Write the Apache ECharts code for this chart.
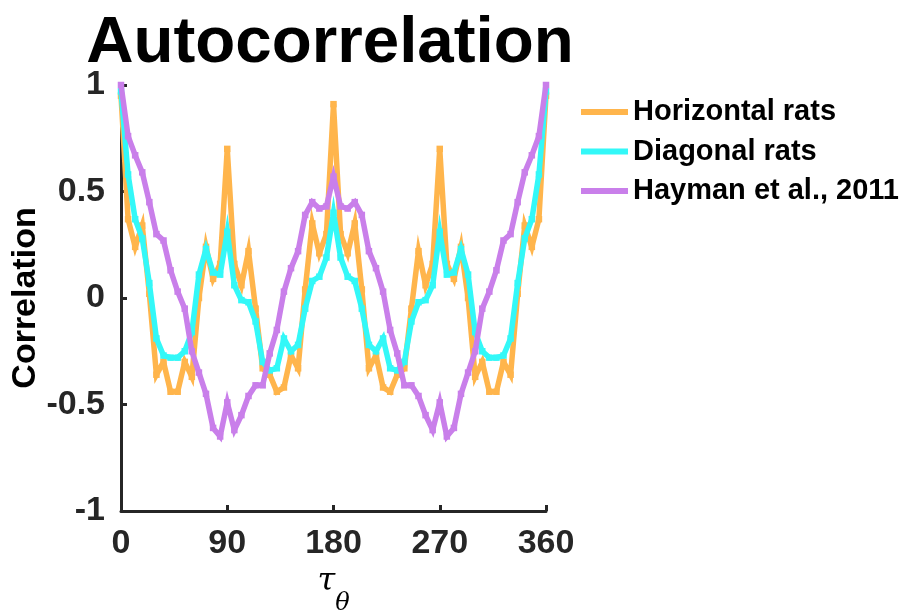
<!DOCTYPE html>
<html>
<head>
<meta charset="utf-8">
<script src="https://cdn.jsdelivr.net/npm/echarts@6/dist/echarts.min.js"></script>
<style>
  html, body { margin: 0; padding: 0; background: #fff; }
  #chart { width: 909px; height: 616px; }
</style>
</head>
<body>
<div id="chart"></div>
<script>
// Angular lag in degrees, sampled every 6 degrees
const lags = [
  0, 6, 12, 18, 24, 30, 36, 42, 48, 54, 60, 66, 72, 78, 84, 90,
  96, 102, 108, 114, 120, 126, 132, 138, 144, 150, 156, 162, 168, 174, 180,
  186, 192, 198, 204, 210, 216, 222, 228, 234, 240, 246, 252, 258, 264, 270,
  276, 282, 288, 294, 300, 306, 312, 318, 324, 330, 336, 342, 348, 354, 360
];

const horizontalRats = [
  0.95, 0.37, 0.24, 0.34, 0.02, -0.36, -0.30, -0.44, -0.44, -0.30, -0.37, 0.00, 0.24, 0.09, 0.16, 0.70,
  0.16, 0.06, 0.22, -0.05, -0.33, -0.36, -0.44, -0.42, -0.27, -0.33, 0.04, 0.35, 0.21, 0.30, 0.91,
  0.30, 0.21, 0.35, 0.04, -0.33, -0.27, -0.42, -0.44, -0.36, -0.33, -0.05, 0.22, 0.06, 0.16, 0.70,
  0.16, 0.09, 0.24, 0.00, -0.37, -0.30, -0.44, -0.44, -0.30, -0.36, 0.02, 0.34, 0.24, 0.37, 0.95
];

const diagonalRats = [
  0.97, 0.58, 0.37, 0.28, 0.07, -0.19, -0.27, -0.28, -0.28, -0.25, -0.16, 0.11, 0.23, 0.12, 0.11, 0.31,
  0.06, -0.01, -0.02, -0.11, -0.30, -0.34, -0.33, -0.19, -0.25, -0.22, -0.05, 0.08, 0.10, 0.19, 0.40,
  0.19, 0.10, 0.08, -0.05, -0.22, -0.25, -0.19, -0.33, -0.34, -0.30, -0.11, -0.02, -0.01, 0.06, 0.31,
  0.11, 0.12, 0.23, 0.11, -0.16, -0.25, -0.28, -0.28, -0.27, -0.19, 0.07, 0.28, 0.37, 0.58, 0.97
];

const hayman2011 = [
  1.00, 0.76, 0.67, 0.59, 0.45, 0.30, 0.27, 0.13, 0.03, -0.05, -0.25, -0.35, -0.45, -0.61, -0.65, -0.49,
  -0.62, -0.55, -0.46, -0.41, -0.41, -0.26, -0.15, 0.03, 0.14, 0.22, 0.39, 0.45, 0.42, 0.43, 0.57,
  0.43, 0.42, 0.45, 0.39, 0.22, 0.14, 0.03, -0.15, -0.26, -0.41, -0.41, -0.46, -0.55, -0.62, -0.49,
  -0.65, -0.61, -0.45, -0.35, -0.25, -0.05, 0.03, 0.13, 0.27, 0.30, 0.45, 0.59, 0.67, 0.76, 1.00
];

const seriesNames = ['Horizontal rats', 'Diagonal rats', 'Hayman et al., 2011'];
const seriesColors = ['#FFB54C', '#33F8F8', '#C97FEA'];
const seriesValues = [horizontalRats, diagonalRats, hayman2011];

const xTicks = [0, 90, 180, 270, 360];
const yTicks = [-1, -0.5, 0, 0.5, 1];

const FONT = '"Liberation Sans", Arial, Helvetica, sans-serif';
const SERIF = '"DejaVu Serif", "Liberation Serif", serif';
const AXIS_COLOR = '#262626';

const chart = echarts.init(document.getElementById('chart'), null, { renderer: 'canvas' });

const series = seriesValues.map((vals, i) => ({
  name: seriesNames[i],
  type: 'line',
  data: lags.map((x, k) => [x, vals[k]]),
  symbol: 'rect',
  symbolSize: 6.5,
  showSymbol: true,
  lineStyle: { color: seriesColors[i], width: 5.5, join: 'miter' },
  itemStyle: { color: seriesColors[i] },
  emphasis: { disabled: true },
  animation: false,
  z: 2 + i
}));

chart.setOption({
  animation: false,
  backgroundColor: '#ffffff',
  title: {
    text: 'Autocorrelation',
    left: 325,
    textAlign: 'center',
    top: 6,
    textStyle: { fontFamily: FONT, fontWeight: 'bold', fontSize: 65.5, color: '#000' }
  },
  legend: {
    orient: 'vertical',
    left: 576,
    top: 90,
    icon: 'rect',
    itemWidth: 47,
    itemHeight: 6,
    itemGap: 5.5,
    textStyle: { fontFamily: FONT, fontWeight: 'bold', fontSize: 29, color: '#000', lineHeight: 34, padding: [0, 0, 0, 0] },
    data: seriesNames.map((n, i) => ({ name: n, itemStyle: { color: seriesColors[i] } }))
  },
  grid: { left: 121, right: 363, top: 85, bottom: 105, containLabel: false, outerBoundsMode: 'none' },
  xAxis: {
    type: 'value',
    min: xTicks[0],
    max: xTicks[xTicks.length - 1],
    interval: 90,
    name: '{t|τ}{s|θ}',
    nameLocation: 'middle',
    nameGap: 50,
    nameTextStyle: {
      rich: {
        t: { fontFamily: SERIF, fontStyle: 'italic', fontSize: 32, color: '#000', verticalAlign: 'top' },
        s: { fontFamily: SERIF, fontStyle: 'italic', fontSize: 24, color: '#000', verticalAlign: 'bottom', padding: [26, 0, 0, 0] }
      }
    },
    axisLine: { show: true, onZero: false, lineStyle: { color: AXIS_COLOR, width: 3 } },
    axisTick: { show: true, inside: true, length: 6, lineStyle: { color: AXIS_COLOR, width: 3 } },
    axisLabel: { fontFamily: FONT, fontWeight: 'bold', fontSize: 34, color: '#262626', margin: 16 },
    splitLine: { show: false }
  },
  yAxis: {
    type: 'value',
    min: yTicks[0],
    max: yTicks[yTicks.length - 1],
    interval: 0.5,
    name: 'Correlation',
    nameLocation: 'middle',
    nameRotate: 90,
    nameGap: 74,
    nameTextStyle: { fontFamily: FONT, fontWeight: 'bold', fontSize: 34, color: '#000' },
    axisLine: { show: true, onZero: false, lineStyle: { color: AXIS_COLOR, width: 3 } },
    axisTick: { show: true, inside: true, length: 6, lineStyle: { color: AXIS_COLOR, width: 3 } },
    axisLabel: { fontFamily: FONT, fontWeight: 'bold', fontSize: 34, color: '#262626', margin: 16 },
    splitLine: { show: false }
  },
  series: series
});
</script>
</body>
</html>
